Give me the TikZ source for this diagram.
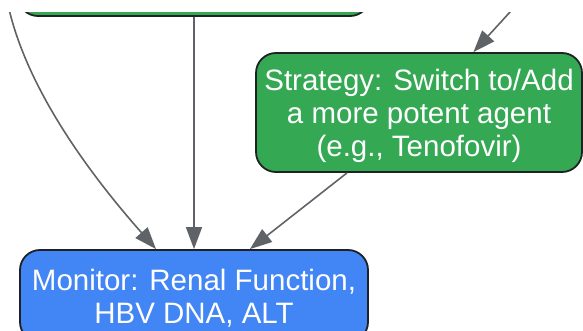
\documentclass[tikz,border=0pt]{standalone}
\usepackage{fontspec}
\setmainfont{Liberation Sans}
\usetikzlibrary{positioning,arrows.meta}
\definecolor{flowgreen}{HTML}{34A853}
\definecolor{flowblue}{HTML}{4285F4}
\definecolor{edgegray}{HTML}{5F6368}
\definecolor{outline}{HTML}{202124}
\tikzset{
  block/.style={
    draw=outline,
    line width=1.8pt,
    rectangle,
    rounded corners=20pt,
    inner sep=0pt,
    text=white,
    text depth=0pt,
    align=center,
    font=\fontsize{29.5}{33}\selectfont
  },
  stepblock/.style={block,fill=flowgreen},
  checkblock/.style={block,fill=flowblue},
  line/.style={-{Triangle[length=22pt,width=16pt]},draw=edgegray,line width=1.6pt}
}
\begin{document}
\begin{tikzpicture}[x=1pt,y=-1pt]
					\useasboundingbox (0,0) rectangle (583,331);
					\clip (0,13) rectangle (583,331);

					% cut-off step above
					\node[stepblock, minimum width=352pt, minimum height=82pt] (assess) at (194,-25) {};

					\node[stepblock, minimum width=326pt, minimum height=119pt] (strategy) at (419,112.5)
						{Strategy: Switch to/Add\\a more potent agent\\(e.g., Tenofovir)};

					\node[checkblock, minimum width=348pt, minimum height=92pt] (monitor) at (194,296)
						{Monitor: Renal Function,\\HBV DNA, ALT};

					% edges coming from outside the frame
					\coordinate (left_src) at (7,0);
					\coordinate (right_src) at (521,0);

					\draw[line] (left_src) .. controls (25,90) and (95,180) .. (monitor.129);
					\draw[line] (assess.south) -- (monitor.north);
					\draw[line] (right_src) -- (strategy.48);
					\draw[line] (strategy.220) -- (monitor.40);

				\end{tikzpicture}
\end{document}
